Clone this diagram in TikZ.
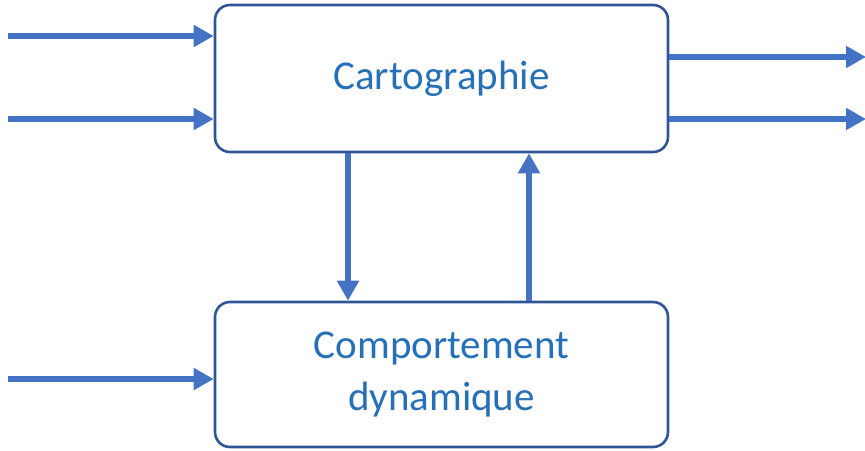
\documentclass[tikz,border=0pt]{standalone}
\usepackage{fontspec}
\setmainfont{Carlito}
\usetikzlibrary{arrows.meta}
\definecolor{bord}{HTML}{2F5597}
\definecolor{texte}{HTML}{2670B8}
\definecolor{trait}{HTML}{4472C4}
\begin{document}
\begin{tikzpicture}[x=1pt, y=-1pt,
    bloc/.style={draw=bord, line width=2.6pt, rounded corners=15pt, fill=white,
      minimum width=453pt, text=texte, align=center, inner sep=0pt,
      font=\fontsize{41}{52}\selectfont},
    fleche/.style={trait, line width=6.5pt, -{Triangle[length=20pt, width=21pt]}}]

    \useasboundingbox (0,0) rectangle (865,450);

    % Blocs
    \node[bloc, minimum height=147pt] (carto) at (441.5,78.5) {Cartographie};
    \node[bloc, minimum height=145pt] (comp) at (441.5,374.5) {Comportement\\dynamique};

    % Entrees et sorties
    \coordinate (e1) at (8,36);
    \coordinate (e2) at (8,119);
    \coordinate (e3) at (8,379);
    \coordinate (s1) at (866,57);
    \coordinate (s2) at (866,119);
    \draw[fleche] (e1) -- (e1 -| carto.west);
    \draw[fleche] (e2) -- (e2 -| carto.west);
    \draw[fleche] (e3) -- (e3 -| comp.west);
    \draw[fleche] (s1 -| carto.east) -- (s1);
    \draw[fleche] (s2 -| carto.east) -- (s2);

    % Liaisons entre les blocs
    \coordinate (d1) at (348,0);
    \coordinate (d2) at (529,0);
    \draw[fleche] (carto.south -| d1) -- (comp.north -| d1);
    \draw[fleche] (comp.north -| d2) -- (carto.south -| d2);
  \end{tikzpicture}
\end{document}
